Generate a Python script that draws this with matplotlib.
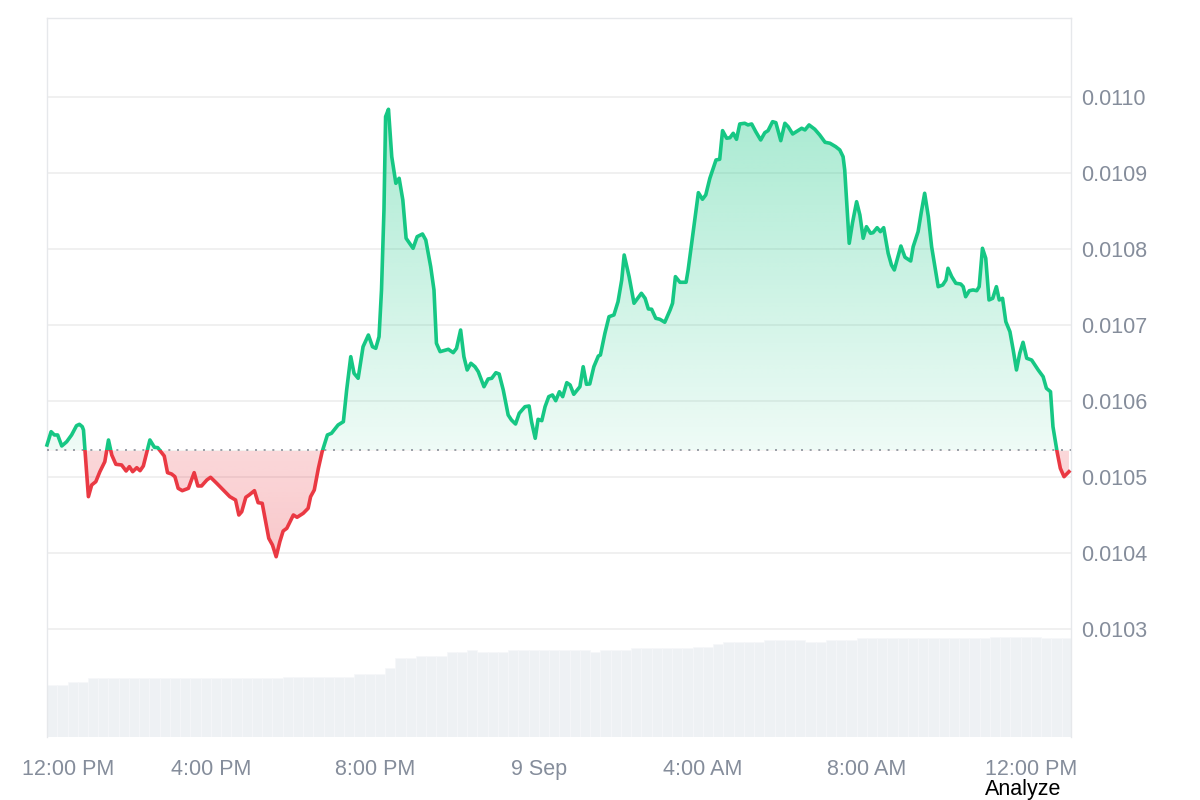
import numpy as np
import matplotlib
matplotlib.use('Agg')
import matplotlib.pyplot as plt
from matplotlib.patches import Rectangle, PathPatch
from matplotlib.path import Path
from matplotlib.transforms import ScaledTranslation

plt.rcParams['font.family'] = ['Liberation Sans', 'DejaVu Sans']

# hours since 12:00 PM, 8 Sep
hours = [0.00, 0.10, 0.18, 0.26, 0.36, 0.48, 0.60, 0.72, 0.79, 0.86,
         0.89, 1.01, 1.09, 1.19, 1.29, 1.41, 1.50, 1.58, 1.68, 1.82,
         1.93, 2.01, 2.09, 2.19, 2.27, 2.35, 2.51, 2.62, 2.70, 2.86,
         2.94, 3.04, 3.12, 3.20, 3.30, 3.45, 3.59, 3.68, 3.77, 3.90,
         3.99, 4.14, 4.30, 4.46, 4.60, 4.68, 4.75, 4.85, 4.93, 5.06,
         5.15, 5.25, 5.41, 5.50, 5.59, 5.68, 5.76, 5.85, 6.01, 6.10,
         6.25, 6.37, 6.43, 6.52, 6.62, 6.71, 6.84, 6.94, 7.10, 7.23,
         7.31, 7.41, 7.49, 7.59, 7.71, 7.84, 7.94, 8.02, 8.10, 8.16,
         8.22, 8.26, 8.33, 8.41, 8.51, 8.59, 8.68, 8.76, 8.93, 9.03,
         9.16, 9.24, 9.36, 9.44, 9.50, 9.59, 9.79, 9.91, 9.99, 10.09,
         10.17, 10.25, 10.34, 10.44, 10.52, 10.66, 10.76, 10.85, 10.95, 11.03,
         11.13, 11.25, 11.33, 11.43, 11.52, 11.66, 11.76, 11.82, 11.91, 11.98,
         12.07, 12.15, 12.24, 12.33, 12.41, 12.50, 12.58, 12.68, 12.76, 12.85,
         13.00, 13.08, 13.16, 13.24, 13.34, 13.45, 13.50, 13.61, 13.71, 13.83,
         13.93, 14.02, 14.08, 14.20, 14.32, 14.50, 14.59, 14.67, 14.75, 14.85,
         14.95, 15.07, 15.20, 15.26, 15.33, 15.44, 15.59, 15.64, 15.76, 15.89,
         15.99, 16.07, 16.17, 16.32, 16.41, 16.48, 16.58, 16.66, 16.74, 16.82,
         16.90, 17.02, 17.10, 17.19, 17.29, 17.41, 17.51, 17.59, 17.70, 17.78,
         17.90, 18.00, 18.08, 18.19, 18.32, 18.41, 18.49, 18.59, 18.73, 18.85,
         18.98, 19.10, 19.24, 19.34, 19.42, 19.46, 19.57, 19.65, 19.75, 19.83,
         19.91, 19.99, 20.09, 20.15, 20.25, 20.33, 20.41, 20.52, 20.60, 20.67,
         20.76, 20.83, 20.93, 21.07, 21.13, 21.25, 21.33, 21.41, 21.50, 21.58,
         21.66, 21.74, 21.85, 21.93, 21.98, 22.07, 22.17, 22.29, 22.35, 22.41,
         22.50, 22.59, 22.68, 22.74, 22.82, 22.90, 22.98, 23.07, 23.16, 23.23,
         23.31, 23.39, 23.49, 23.57, 23.65, 23.73, 23.81, 23.90, 24.02, 24.10,
         24.18, 24.30, 24.38, 24.48, 24.54, 24.64, 24.72, 24.81, 24.93]

price = [0.0105421, 0.0105596, 0.0105553, 0.0105553, 0.0105408, 0.0105464, 0.0105553, 0.0105675, 0.0105693, 0.0105662,
         0.0105618, 0.0104741, 0.0104895, 0.0104938, 0.0105070, 0.0105201, 0.0105487, 0.0105289, 0.0105167, 0.0105158,
         0.0105079, 0.0105136, 0.0105070, 0.0105122, 0.0105083, 0.0105145, 0.0105487, 0.0105391, 0.0105386, 0.0105276,
         0.0105057, 0.0105039, 0.0105004, 0.0104851, 0.0104820, 0.0104851, 0.0105057, 0.0104882, 0.0104882, 0.0104961,
         0.0104996, 0.0104917, 0.0104829, 0.0104741, 0.0104697, 0.0104500, 0.0104543, 0.0104733, 0.0104763, 0.0104820,
         0.0104662, 0.0104654, 0.0104193, 0.0104105, 0.0103951, 0.0104149, 0.0104289, 0.0104325, 0.0104500, 0.0104470,
         0.0104522, 0.0104588, 0.0104741, 0.0104829, 0.0105114, 0.0105329, 0.0105553, 0.0105575, 0.0105684, 0.0105728,
         0.0106145, 0.0106583, 0.0106364, 0.0106299, 0.0106714, 0.0106868, 0.0106714, 0.0106693, 0.0106846, 0.0107461,
         0.0108513, 0.0109741, 0.0109838, 0.0109214, 0.0108864, 0.0108930, 0.0108645, 0.0108141, 0.0108009, 0.0108162,
         0.0108197, 0.0108118, 0.0107767, 0.0107461, 0.0106759, 0.0106649, 0.0106680, 0.0106636, 0.0106693, 0.0106934,
         0.0106583, 0.0106408, 0.0106496, 0.0106451, 0.0106386, 0.0106188, 0.0106289, 0.0106299, 0.0106372, 0.0106355,
         0.0106145, 0.0105816, 0.0105750, 0.0105697, 0.0105838, 0.0105925, 0.0105934, 0.0105728, 0.0105509, 0.0105759,
         0.0105741, 0.0105925, 0.0106057, 0.0106079, 0.0106004, 0.0106122, 0.0106057, 0.0106241, 0.0106211, 0.0106088,
         0.0106188, 0.0106451, 0.0106220, 0.0106224, 0.0106451, 0.0106592, 0.0106605, 0.0106891, 0.0107109, 0.0107132,
         0.0107307, 0.0107592, 0.0107921, 0.0107636, 0.0107286, 0.0107417, 0.0107351, 0.0107211, 0.0107207, 0.0107088,
         0.0107075, 0.0107036, 0.0107197, 0.0107286, 0.0107636, 0.0107562, 0.0107562, 0.0107724, 0.0108207, 0.0108741,
         0.0108654, 0.0108711, 0.0108930, 0.0109171, 0.0109180, 0.0109557, 0.0109457, 0.0109464, 0.0109522, 0.0109443,
         0.0109645, 0.0109654, 0.0109632, 0.0109645, 0.0109543, 0.0109434, 0.0109530, 0.0109557, 0.0109675, 0.0109662,
         0.0109425, 0.0109654, 0.0109609, 0.0109513, 0.0109557, 0.0109588, 0.0109566, 0.0109632, 0.0109575, 0.0109500,
         0.0109404, 0.0109391, 0.0109346, 0.0109303, 0.0109214, 0.0109039, 0.0108075, 0.0108346, 0.0108622, 0.0108447,
         0.0108141, 0.0108293, 0.0108207, 0.0108214, 0.0108280, 0.0108228, 0.0108280, 0.0107943, 0.0107789, 0.0107724,
         0.0107899, 0.0108039, 0.0107891, 0.0107842, 0.0108030, 0.0108228, 0.0108491, 0.0108733, 0.0108425, 0.0108030,
         0.0107767, 0.0107504, 0.0107526, 0.0107592, 0.0107746, 0.0107636, 0.0107549, 0.0107539, 0.0107504, 0.0107372,
         0.0107451, 0.0107461, 0.0107451, 0.0107504, 0.0108009, 0.0107878, 0.0107329, 0.0107351, 0.0107504, 0.0107329,
         0.0107351, 0.0107043, 0.0106912, 0.0106671, 0.0106408, 0.0106628, 0.0106772, 0.0106562, 0.0106539, 0.0106474,
         0.0106408, 0.0106320, 0.0106167, 0.0106122, 0.0105662, 0.0105333, 0.0105114, 0.0105004, 0.0105070]

# opening price (dotted reference line)
base = 0.010535

# volume, one bar per 15 minutes (relative units)
volume = [52, 52, 55, 55, 59, 59, 59, 59, 59, 59,
          59, 59, 59, 59, 59, 59, 59, 59, 59, 59,
          59, 59, 59, 60, 60, 60, 60, 60, 60, 60,
          63, 63, 63, 69, 79, 79, 81, 81, 81, 85,
          85, 87, 85, 85, 85, 87, 87, 87, 87, 87,
          87, 87, 87, 85, 87, 87, 87, 89, 89, 89,
          89, 89, 89, 90, 90, 93, 95, 95, 95, 95,
          97, 97, 97, 97, 95, 95, 97, 97, 97, 99,
          99, 99, 99, 99, 99, 99, 99, 99, 99, 99,
          99, 99, 100, 100, 100, 100, 100, 99, 99, 99]
vol_hours = np.arange(len(volume)) * 0.25

yticks = [0.0103, 0.0104, 0.0105, 0.0106, 0.0107, 0.0108, 0.0109, 0.0110]
xticks = [0, 4, 8, 12, 16, 20, 24]
xlabels = ['12:00 PM', '4:00 PM', '8:00 PM', '9 Sep', '4:00 AM', '8:00 AM', '12:00 PM']

green = '#16c784'
red = '#ea3943'
grey_txt = '#858d9b'

hours = np.array(hours)
price = np.array(price)

fig = plt.figure(figsize=(12, 8), dpi=100)
ax = fig.add_axes([0.03917, 0.07875, 0.85333, 0.89875])
ax2 = ax.twinx()
ax.set_zorder(ax2.get_zorder() + 1)
ax.patch.set_visible(False)

# volume bars in the background
ax2.bar(vol_hours, volume, width=0.25, align='edge', color='#eef1f4',
        edgecolor='#f6f7f9', linewidth=0.5)
ax2.set_ylim(0, max(volume) * 7.19)
ax2.set_yticks([])
for s in ax2.spines.values():
    s.set_visible(False)

# gradient fill between price and base
pmin, pmax = price.min(), price.max()
yy = np.linspace(pmin, pmax, 500)
img = np.zeros((len(yy), 2, 4))
g = np.array(matplotlib.colors.to_rgb(green))
r = np.array(matplotlib.colors.to_rgb(red))
for i, v in enumerate(yy):
    if v >= base:
        img[i, :, :3] = g
        img[i, :, 3] = 0.07 + 0.30 * (v - base) / (pmax - base)
    else:
        img[i, :, :3] = r
        img[i, :, 3] = 0.20 + 0.08 * (base - v) / (base - pmin)
im = ax.imshow(img, extent=[hours[0], hours[-1], pmin, pmax], origin='lower',
               aspect='auto', interpolation='bilinear', zorder=2)
verts = [(hours[0], base)] + list(zip(hours, price)) + [(hours[-1], base), (hours[0], base)]
area = PathPatch(Path(verts, closed=True), facecolor='none', edgecolor='none',
                 transform=ax.transData)
ax.add_patch(area)
im.set_clip_path(area)

ax.axhline(base, color='#8a8f99', lw=1.2, ls=(0, (1.2, 4.0)), zorder=3)

# price line, green above the opening price, red below
up = Rectangle((-5, base), 40, 1, transform=ax.transData)
dn = Rectangle((-5, base - 1), 40, 1, transform=ax.transData)
l1, = ax.plot(hours, price, color=green, lw=2.6, zorder=4, solid_joinstyle='round')
l1.set_clip_path(up)
l2, = ax.plot(hours, price, color=red, lw=2.6, zorder=4, solid_joinstyle='round')
l2.set_clip_path(dn)

ax.set_xlim(0, 24.98)
ax.set_ylim(0.0101579, 0.0111039)

ax.yaxis.tick_right()
ax.set_yticks(yticks)
ax.set_yticklabels(['%.4f' % v for v in yticks])
ax.set_xticks(xticks)
ax.set_xticklabels(xlabels)
ax.tick_params(axis='y', length=0, pad=7.5, labelsize=15.5, labelcolor=grey_txt)
ax.tick_params(axis='x', length=0, pad=15.5, labelsize=15.5, labelcolor=grey_txt)
first = ax.get_xticklabels()[0]
first.set_transform(first.get_transform() + ScaledTranslation(0.21, 0, fig.dpi_scale_trans))

ax.grid(axis='y', color='#ededed', lw=1.2)
ax.set_axisbelow(True)
for side in ['left', 'top', 'right']:
    ax.spines[side].set_color('#e6e8eb')
    ax.spines[side].set_linewidth(1.0)
ax.spines['bottom'].set_visible(False)

fig.text(985 / 1200, 1 - 789 / 800, 'Analyze', fontsize=15.5, color='black',
         ha='left', va='center')

fig.savefig('out.png', dpi=100)
